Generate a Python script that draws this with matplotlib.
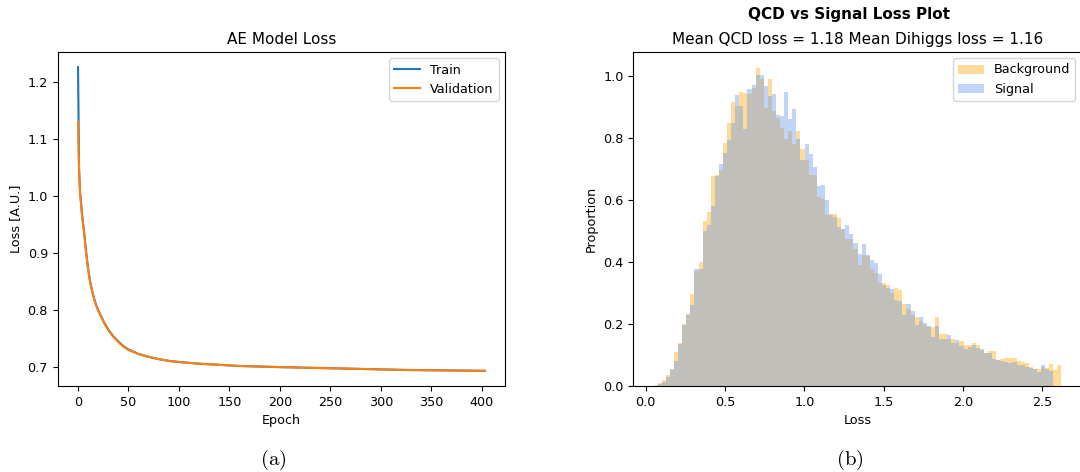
import numpy as np
import matplotlib
matplotlib.use("Agg")
import matplotlib.pyplot as plt

plt.rcParams['mathtext.fontset'] = 'cm'

# --- (a) training history -------------------------------------------------
epochs = [0, 1, 2, 3, 4, 5, 6, 8, 10, 12, 14, 16, 18, 20, 23, 26, 30, 35, 40, 45,
          50, 60, 70, 80, 90, 100, 120, 140, 160, 180, 200, 225, 250, 275, 300,
          325, 350, 375, 403]
train_loss = [1.226, 1.048, 1.007, 0.987, 0.967, 0.952, 0.937, 0.902, 0.872, 0.849,
              0.833, 0.819, 0.808, 0.799, 0.788, 0.777, 0.765, 0.753, 0.744, 0.736,
              0.730, 0.722, 0.717, 0.713, 0.710, 0.708, 0.705, 0.703, 0.701, 0.700,
              0.699, 0.698, 0.697, 0.696, 0.695, 0.694, 0.6935, 0.693, 0.6925]
val_loss = [1.130, 1.045, 1.005, 0.985, 0.965, 0.950, 0.935, 0.900, 0.870, 0.848,
            0.832, 0.818, 0.807, 0.798, 0.787, 0.776, 0.764, 0.752, 0.743, 0.735,
            0.729, 0.722, 0.717, 0.713, 0.710, 0.708, 0.705, 0.703, 0.701, 0.700,
            0.699, 0.698, 0.697, 0.696, 0.695, 0.694, 0.6935, 0.693, 0.6925]

# --- (b) loss distributions (100 common bins, normalised heights) ---------
bin_edges = np.linspace(0.05, 2.62, 101)
bkg_heights = [0.002, 0.009, 0.020, 0.035, 0.050, 0.109, 0.140, 0.200, 0.232, 0.296,
               0.370, 0.400, 0.532, 0.561, 0.677, 0.680, 0.696, 0.784, 0.848, 0.916,
               0.902, 0.948, 0.945, 0.943, 0.961, 1.026, 0.990, 0.897, 0.991, 0.886,
               0.865, 0.832, 0.798, 0.821, 0.781, 0.822, 0.765, 0.730, 0.682, 0.682,
               0.610, 0.602, 0.550, 0.555, 0.555, 0.542, 0.505, 0.473, 0.473, 0.443,
               0.389, 0.421, 0.420, 0.376, 0.365, 0.333, 0.331, 0.325, 0.299, 0.317,
               0.311, 0.263, 0.247, 0.228, 0.223, 0.209, 0.197, 0.191, 0.191, 0.223,
               0.169, 0.167, 0.153, 0.150, 0.138, 0.145, 0.131, 0.131, 0.140, 0.131,
               0.116, 0.108, 0.113, 0.113, 0.084, 0.086, 0.090, 0.091, 0.091, 0.081,
               0.078, 0.073, 0.062, 0.056, 0.054, 0.062, 0.059, 0.070, 0.050, 0.068]
sig_heights = [0.001, 0.006, 0.014, 0.028, 0.056, 0.080, 0.137, 0.198, 0.228, 0.260,
               0.378, 0.378, 0.500, 0.519, 0.580, 0.676, 0.717, 0.750, 0.793, 0.848,
               0.937, 0.902, 0.830, 0.958, 0.971, 1.004, 1.004, 0.967, 0.934, 0.942,
               0.875, 0.872, 0.948, 0.861, 0.894, 0.798, 0.730, 0.779, 0.749, 0.706,
               0.645, 0.647, 0.600, 0.550, 0.545, 0.513, 0.505, 0.518, 0.491, 0.462,
               0.426, 0.457, 0.421, 0.406, 0.397, 0.360, 0.325, 0.317, 0.313, 0.277,
               0.274, 0.228, 0.266, 0.242, 0.198, 0.223, 0.204, 0.193, 0.159, 0.195,
               0.153, 0.153, 0.163, 0.140, 0.148, 0.129, 0.118, 0.127, 0.131, 0.121,
               0.120, 0.105, 0.105, 0.088, 0.083, 0.081, 0.079, 0.075, 0.077, 0.067,
               0.067, 0.062, 0.059, 0.054, 0.045, 0.067, 0.054, 0.049, 0.0, 0.0]
mean_qcd = 1.18
mean_dihiggs = 1.16

W, H = 1080, 472
fig = plt.figure(figsize=(W / 100, H / 100), dpi=100)

fs_tick = 9.2
fs_title = 11

# left panel
ax1 = fig.add_axes([57.7 / W, (H - 386) / H, 447.3 / W, 334 / H])
ax1.plot(epochs, train_loss, label='Train')
ax1.plot(epochs, val_loss, label='Validation')
ax1.set_title('AE Model Loss', fontsize=fs_title)
ax1.set_xlabel('Epoch', fontsize=fs_tick)
ax1.set_ylabel('Loss [A.U.]', fontsize=fs_tick)
ax1.tick_params(labelsize=fs_tick)
ax1.legend(loc='upper right', fontsize=fs_tick)

# right panel
ax2 = fig.add_axes([633.3 / W, (H - 386) / H, 448.5 / W, 334 / H])
centers = 0.5 * (bin_edges[:-1] + bin_edges[1:])
ax2.hist(centers, bins=bin_edges, weights=bkg_heights, color='orange', alpha=0.4,
         label='Background')
ax2.hist(centers, bins=bin_edges, weights=sig_heights, color='cornflowerblue', alpha=0.4,
         label='Signal')
ax2.set_title(f'Mean QCD loss = {mean_qcd} Mean Dihiggs loss = {mean_dihiggs}',
              fontsize=fs_title)
ax2.set_xlabel('Loss', fontsize=fs_tick)
ax2.set_ylabel('Proportion', fontsize=fs_tick)
ax2.tick_params(labelsize=fs_tick)
ax2.legend(loc='upper right', fontsize=fs_tick)

fig.text(849 / W, 1 - 15 / H, 'QCD vs Signal Loss Plot', fontsize=fs_title,
         fontweight='bold', ha='center', va='center')

# subfigure captions
fig.text(273 / W, 1 - 460 / H, r'$\mathrm{(a)}$', fontsize=15, ha='center', va='center')
fig.text(850 / W, 1 - 460 / H, r'$\mathrm{(b)}$', fontsize=15, ha='center', va='center')

fig.savefig('out.png', dpi=100)
